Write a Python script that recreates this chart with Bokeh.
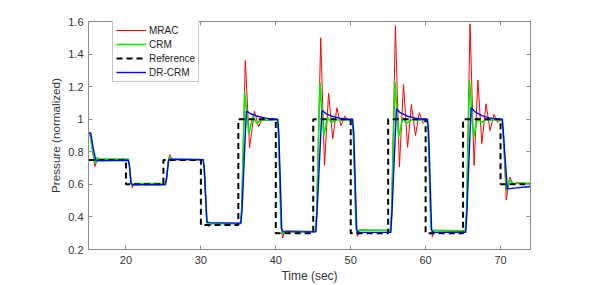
from bokeh.plotting import figure
from bokeh.models import Range1d, LinearAxis, FixedTicker, Legend, LegendItem
from bokeh.embed import file_html
from bokeh.resources import INLINE

# ---- data ----
x_ticks = [20, 30, 40, 50, 60, 70]
x_tick_labels = ["20", "30", "40", "50", "60", "70"]
y_ticks = [0.2, 0.4, 0.6, 0.8, 1.0, 1.2, 1.4, 1.6]
y_tick_labels = ["0.2", "0.4", "0.6", "0.8", "1", "1.2", "1.4", "1.6"]

t_ref = [15, 20, 20, 25, 25, 30, 30, 35, 35, 40, 40, 45, 45, 50, 50, 55, 55, 60, 60, 65, 65, 70, 70, 74]
y_ref = [0.75, 0.75, 0.6, 0.6, 0.75, 0.75, 0.35, 0.35, 1.0, 1.0, 0.3, 0.3, 1.0, 1.0, 0.3, 0.3,
         1.0, 1.0, 0.3, 0.3, 1.0, 1.0, 0.6, 0.6]

t_mrac = [15.0, 15.25, 15.5, 15.85, 16.1, 16.35, 16.7, 20.3,
          20.45, 20.7, 20.85, 21.1, 21.4, 25.25,
          25.4, 25.7, 25.85, 26.1, 26.4, 30.3,
          30.45, 30.8, 31.0, 31.3, 31.6, 35.3,
          35.45, 35.93, 36.5, 37.15, 37.7, 38.25, 38.8, 39.3, 40.2,
          40.35, 40.7, 40.9, 41.15, 41.4, 45.3,
          45.45, 46.0, 46.5, 47.05, 47.6, 48.15, 48.7, 49.2, 49.7, 50.2,
          50.35, 50.7, 50.9, 51.15, 51.5, 55.3,
          55.45, 55.97, 56.5, 57.05, 57.6, 58.1, 58.65, 59.15, 59.65, 60.2,
          60.35, 60.7, 60.9, 61.15, 61.5, 65.3,
          65.45, 65.93, 66.47, 66.98, 67.5, 68.07, 68.6, 69.13, 69.6, 70.2,
          70.35, 70.76, 71.24, 71.7, 72.1, 74.0]
y_mrac = [0.91, 0.91, 0.82, 0.71, 0.74, 0.76, 0.75, 0.75,
          0.72, 0.6, 0.58, 0.6, 0.605, 0.6,
          0.63, 0.76, 0.782, 0.76, 0.75, 0.75,
          0.7, 0.37, 0.34, 0.355, 0.36, 0.36,
          0.45, 1.36, 0.825, 1.05, 0.955, 1.01, 0.99, 1.0, 1.0,
          0.92, 0.35, 0.27, 0.31, 0.315, 0.31,
          0.42, 1.5, 0.716, 1.16, 0.88, 1.07, 0.96, 1.02, 0.99, 1.0,
          0.92, 0.34, 0.28, 0.32, 0.32, 0.315,
          0.42, 1.575, 0.706, 1.213, 0.828, 1.09, 0.9, 1.04, 0.975, 1.0,
          0.92, 0.34, 0.276, 0.32, 0.315, 0.31,
          0.42, 1.586, 0.716, 1.24, 0.85, 1.095, 0.93, 1.03, 0.98, 1.0,
          0.92, 0.505, 0.644, 0.6, 0.61, 0.605]

t_crm = [15.0, 15.25, 15.5, 15.85, 16.15, 16.5, 20.3,
         20.45, 20.7, 20.85, 21.1, 25.25,
         25.4, 25.7, 25.85, 26.1, 30.3,
         30.45, 30.8, 31.0, 31.3, 35.3,
         35.45, 35.85, 36.4, 36.95, 37.45, 38.0, 40.2,
         40.35, 40.7, 40.9, 41.15, 45.3,
         45.45, 45.9, 46.4, 46.9, 47.4, 48.0, 50.2,
         50.35, 50.7, 50.9, 51.15, 55.3,
         55.45, 55.9, 56.4, 56.95, 57.45, 58.0, 60.2,
         60.35, 60.7, 60.9, 61.15, 65.3,
         65.45, 65.85, 66.4, 66.95, 67.4, 68.0, 70.2,
         70.35, 70.8, 71.2, 71.6, 74.0]
y_crm = [0.9, 0.9, 0.82, 0.73, 0.765, 0.755, 0.755,
         0.72, 0.61, 0.595, 0.605, 0.605,
         0.63, 0.75, 0.77, 0.755, 0.752,
         0.7, 0.37, 0.35, 0.358, 0.358,
         0.45, 1.166, 0.91, 1.02, 0.975, 0.995, 0.995,
         0.92, 0.34, 0.295, 0.31, 0.31,
         0.42, 1.227, 0.9, 1.01, 0.98, 0.995, 0.995,
         0.92, 0.34, 0.3, 0.32, 0.318,
         0.42, 1.233, 0.89, 1.01, 0.975, 0.995, 0.995,
         0.92, 0.34, 0.3, 0.318, 0.315,
         0.42, 1.24, 0.89, 1.01, 0.98, 0.995, 0.995,
         0.92, 0.56, 0.63, 0.605, 0.607]

t_dr = [15.0, 15.3, 15.6, 15.95, 16.3, 20.3,
        20.45, 20.65, 20.9, 25.25,
        25.4, 25.7, 26.0, 30.3,
        30.45, 30.8, 31.1, 35.35,
        35.5, 36.07, 36.6, 37.4, 38.5, 39.3, 40.25,
        40.4, 40.8, 41.0, 45.35,
        45.5, 46.15, 46.7, 47.5, 48.5, 49.5, 50.25,
        50.4, 50.8, 51.0, 55.35,
        55.5, 56.1, 56.6, 57.5, 58.5, 59.5, 60.25,
        60.4, 60.8, 61.0, 65.35,
        65.5, 66.07, 66.6, 67.5, 68.5, 69.5, 70.25,
        70.4, 70.9, 71.5, 74.0]
y_dr = [0.915, 0.915, 0.83, 0.75, 0.745, 0.748,
        0.72, 0.61, 0.598, 0.598,
        0.63, 0.75, 0.755, 0.752,
        0.7, 0.37, 0.365, 0.362,
        0.45, 1.05, 1.035, 1.02, 1.008, 1.002, 1.0,
        0.92, 0.32, 0.31, 0.308,
        0.42, 1.054, 1.035, 1.018, 1.007, 1.0, 1.0,
        0.92, 0.32, 0.306, 0.305,
        0.42, 1.064, 1.04, 1.02, 1.008, 1.0, 1.0,
        0.92, 0.32, 0.306, 0.305,
        0.42, 1.07, 1.045, 1.022, 1.008, 1.002, 1.0,
        0.9, 0.572, 0.575, 0.587]

FONT = "Liberation Sans"
AXC = "#8c8c8c"
TXC = "#333333"

p = figure(frame_width=442, frame_height=228,
           x_range=Range1d(15, 74), y_range=Range1d(0.2, 1.6),
           output_backend="svg", toolbar_location=None,
           min_border_left=88, min_border_top=21, min_border_right=60, min_border_bottom=36,
           background_fill_color="white", border_fill_color="white")
p.outline_line_color = None
p.grid.visible = False


def style_axis(ax, ticks, labels, show_labels):
    ax.ticker = FixedTicker(ticks=ticks)
    if show_labels:
        ax.major_label_overrides = {t: l for t, l in zip(ticks, labels)}
    else:
        ax.major_label_overrides = {t: "" for t in ticks}
        ax.major_label_standoff = 0
    ax.major_tick_in = 4
    ax.major_tick_out = 0
    ax.minor_tick_line_color = None
    ax.axis_line_color = AXC
    ax.major_tick_line_color = AXC
    ax.major_label_text_font = FONT
    ax.major_label_text_color = TXC
    ax.major_label_text_font_size = "11px"
    ax.axis_label_text_font = FONT
    ax.axis_label_text_color = TXC
    ax.axis_label_text_font_style = "normal"


xa = p.xaxis[0]
ya = p.yaxis[0]
style_axis(xa, x_ticks, x_tick_labels, True)
style_axis(ya, y_ticks, y_tick_labels, True)
xa.axis_label = "Time (sec)"
xa.axis_label_text_font_size = "12px"
xa.major_label_standoff = 6
xa.axis_label_standoff = 2
ya.axis_label = "Pressure (normalized)"
ya.axis_label_text_font_size = "11.7px"
ya.major_label_standoff = 5
ya.axis_label_standoff = 3

top = LinearAxis()
style_axis(top, x_ticks, x_tick_labels, False)
p.add_layout(top, "above")
right = LinearAxis()
style_axis(right, y_ticks, y_tick_labels, False)
p.add_layout(right, "right")

r_mrac = p.line(t_mrac, y_mrac, line_color="#ff0000", line_width=1)
r_crm = p.line(t_crm, y_crm, line_color="#00ee00", line_width=1.6)
r_ref = p.line(t_ref, y_ref, line_color="black", line_width=2, line_dash="6 4")
r_dr = p.line(t_dr, y_dr, line_color="#0000ff", line_width=1.4)

legend = Legend(items=[LegendItem(label="MRAC", renderers=[r_mrac]),
                       LegendItem(label="CRM", renderers=[r_crm]),
                       LegendItem(label="Reference", renderers=[r_ref]),
                       LegendItem(label="DR-CRM", renderers=[r_dr])],
                location=(24, 167), orientation="vertical",
                glyph_width=30, glyph_height=12, label_height=12, label_width=20,
                label_standoff=3, spacing=2, padding=3, margin=0,
                label_text_font=FONT, label_text_font_size="10px", label_text_color="#222222",
                border_line_color=AXC, border_line_width=1,
                background_fill_color="white", background_fill_alpha=1)
p.add_layout(legend)

open("out.html", "w").write(file_html(p, INLINE))
